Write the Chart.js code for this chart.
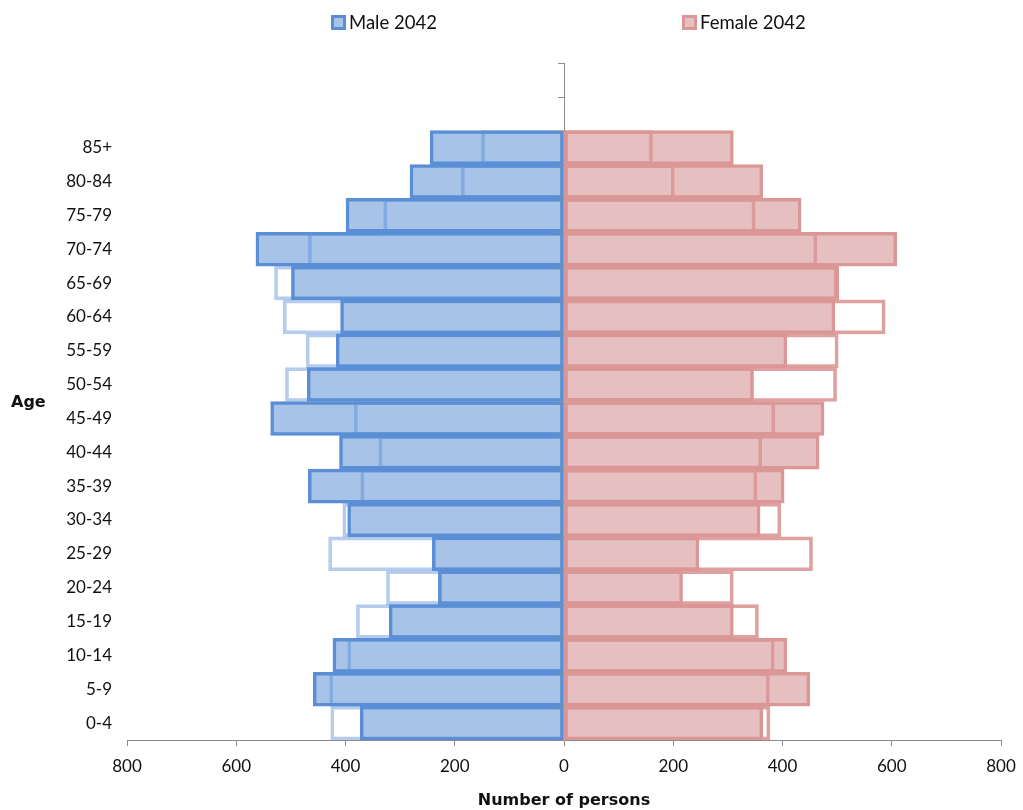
<!DOCTYPE html>
<html>
<head>
<meta charset="utf-8">
<script src="https://cdn.jsdelivr.net/npm/chart.js@4.4.1/dist/chart.umd.min.js"></script>
<style>
  body { margin: 0; background: #fff; font-family: Lato, "Open Sans", sans-serif; }
  .wrap { position: relative; width: 1023px; height: 810px; }
  .legend-item { position: absolute; top: 11px; font-size: 18.5px; color: #111; display: flex; align-items: center; }
  .legend-box { width: 9px; height: 9px; border: 3px solid; margin-right: 3px; }
  .age { position: absolute; left: 11px; top: 392px; font-family: "DejaVu Sans", sans-serif; font-size: 16px; font-weight: bold; color: #111; }
</style>
</head>
<body>
<div class="wrap">
  <canvas id="pyramid"></canvas>
  <div class="legend-item" style="left:331px"><span class="legend-box" style="background:#a7c3e8;border-color:#5a8fd6"></span>Male 2042</div>
  <div class="legend-item" style="left:682px"><span class="legend-box" style="background:#e6bfc0;border-color:#da9796"></span>Female 2042</div>
  <div class="age">Age</div>
</div>
<script>
// age groups bottom -> top, two empty slots above 85+
const ageGroups = ['0-4', '5-9', '10-14', '15-19', '20-24', '25-29', '30-34', '35-39', '40-44',
  '45-49', '50-54', '55-59', '60-64', '65-69', '70-74', '75-79', '80-84', '85+', '', ''];

// filled bars (2042), male on the negative side
const male2042 = [-373, -459, -423, -320, -230, -241, -396, -468, -411,
  -537, -470, -417, -409, -499, -564, -399, -282, -245];
const female2042 = [364, 450, 408, 310, 217, 247, 359, 403, 467,
  476, 347, 408, 496, 503, 609, 434, 364, 310];

// outline bars (comparison year)
const maleCompare = [-427, -429, -396, -380, -325, -431, -405, -372, -339,
  -384, -510, -472, -514, -530, -468, -330, -188, -151];
const femaleCompare = [377, 376, 385, 356, 310, 455, 397, 353, 362,
  386, 499, 502, 588, 500, 463, 350, 202, 162];

const xTicks = [-800, -600, -400, -200, 0, 200, 400, 600, 800];

const axisGray = '#8c8c8c';

// little tick marks on the centre axis at category boundaries
const centreTicks = {
  id: 'centreTicks',
  afterDatasetsDraw(chart) {
    const ctx = chart.ctx;
    const x0 = chart.scales.x.getPixelForValue(0);
    const y = chart.scales.y;
    ctx.save();
    ctx.strokeStyle = axisGray;
    ctx.lineWidth = 1;
    for (let i = 0; i <= ageGroups.length; i++) {
      const py = Math.round(y.getPixelForValue(i - 0.5)) + 0.5;
      ctx.beginPath();
      ctx.moveTo(x0 - 6, py);
      ctx.lineTo(x0, py);
      ctx.stroke();
    }
    ctx.restore();
  }
};

new Chart(document.getElementById('pyramid'), {
  type: 'bar',
  data: {
    labels: ageGroups,
    datasets: [
      { label: 'Male 2042', data: male2042, order: 1,
        backgroundColor: '#a7c3e8', borderColor: '#5a8fd6', borderWidth: 3.5 },
      { label: 'Female 2042', data: female2042, order: 1,
        backgroundColor: '#e6bfc0', borderColor: '#da9796', borderWidth: 3.5 },
      { label: 'Male', data: maleCompare, order: 0,
        backgroundColor: 'rgba(0,0,0,0)', borderColor: 'rgba(90,143,214,0.45)', borderWidth: 3 },
      { label: 'Female', data: femaleCompare, order: 0,
        backgroundColor: 'rgba(0,0,0,0)', borderColor: 'rgba(218,151,150,0.9)', borderWidth: 3 }
    ]
  },
  options: {
    indexAxis: 'y',
    responsive: true,
    maintainAspectRatio: false,
    animation: false,
    datasets: {
      bar: { barPercentage: 1, categoryPercentage: 1, borderSkipped: false }
    },
    layout: { padding: { top: 63, right: 22, left: 0, bottom: 0 } },
    plugins: {
      legend: { display: false },
      tooltip: { enabled: false }
    },
    scales: {
      y: {
        stacked: true,
        reverse: true,
        grid: { display: false, drawTicks: false },
        border: { display: false },
        ticks: { padding: 15, color: '#111', font: { family: 'Lato', size: 17 } },
        afterFit: s => { s.width = 127; }
      },
      x: {
        stacked: false,
        min: -800,
        max: 800,
        afterBuildTicks: s => { s.ticks = xTicks.map(v => ({ value: v })); },
        grid: {
          drawOnChartArea: true,
          color: c => (c.tick && c.tick.value === 0 ? axisGray : 'rgba(0,0,0,0)'),
          tickColor: axisGray,
          tickLength: 6
        },
        border: { display: true, color: axisGray },
        ticks: {
          padding: 10,
          color: '#111',
          font: { family: 'Lato', size: 17 },
          callback: v => Math.abs(v)
        },
        title: {
          display: true,
          text: 'Number of persons',
          color: '#111',
          font: { family: 'DejaVu Sans', size: 16, weight: 'bold' },
          padding: { top: 2, bottom: 0 }
        },
        afterFit: s => {
          s.height = 70;
          s.paddingLeft = 0;
          s.paddingRight = 0;
        }
      }
    }
  },
  plugins: [centreTicks]
});
</script>
</body>
</html>
